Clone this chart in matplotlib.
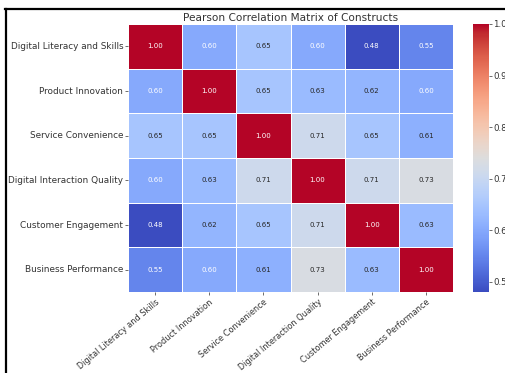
import numpy as np
import matplotlib
matplotlib.use("Agg")
import matplotlib.pyplot as plt
import seaborn as sns
from matplotlib.lines import Line2D


# ===================================
# Data
# ===================================

constructs = [
    "Digital Literacy and Skills",
    "Product Innovation",
    "Service Convenience",
    "Digital Interaction Quality",
    "Customer Engagement",
    "Business Performance",
]

corr = [
    [1.00, 0.60, 0.65, 0.60, 0.48, 0.55],
    [0.60, 1.00, 0.65, 0.63, 0.62, 0.60],
    [0.65, 0.65, 1.00, 0.71, 0.65, 0.61],
    [0.60, 0.63, 0.71, 1.00, 0.71, 0.73],
    [0.48, 0.62, 0.65, 0.71, 1.00, 0.63],
    [0.55, 0.60, 0.61, 0.73, 0.63, 1.00],
]

cbar_ticks = [0.5, 0.6, 0.7, 0.8, 0.9, 1.0]


# ===================================
# Plotting
# ===================================

W, H = 506, 373
fig = plt.figure(figsize=(W / 100, H / 100), dpi=100)

# axes placed in pixel terms
ax = fig.add_axes([128 / W, 1 - 292 / H, 325 / W, 268 / H])
cax = fig.add_axes([473 / W, 1 - 292 / H, 16 / W, 268 / H])

sns.heatmap(np.array(corr), ax=ax, cbar_ax=cax, cmap="coolwarm",
            annot=True, fmt=".2f", annot_kws={"fontsize": 5.0},
            linewidths=0.5, linecolor="white",
            xticklabels=constructs, yticklabels=constructs,
            cbar_kws={"ticks": cbar_ticks})

ax.set_title("Pearson Correlation Matrix of Constructs", fontsize=7.6,
             color="#333333", pad=2)
ax.tick_params(axis="y", labelsize=6.4, length=2, width=0.5,
               colors="#333333", pad=1.5)
ax.tick_params(axis="x", labelsize=5.9, length=2, width=0.5,
               colors="#333333", pad=2)
plt.setp(ax.get_xticklabels(), rotation=40, ha="right",
         rotation_mode="anchor")
plt.setp(ax.get_yticklabels(), rotation=0)

cax.tick_params(labelsize=6.2, length=2, width=0.5, colors="#333333", pad=1)
cax.set_yticklabels(["0.5", "0.6", "0.7", "0.8", "0.9", "1.0"])

# frame lines on top and left
fig.add_artist(Line2D([6 / W, 6 / W], [0, 1 - 8.5 / H],
                      transform=fig.transFigure, color="black", lw=1.6))
fig.add_artist(Line2D([5.2 / W, 1], [1 - 8.5 / H, 1 - 8.5 / H],
                      transform=fig.transFigure, color="black", lw=1.6))

fig.savefig("out.png", dpi=100)
